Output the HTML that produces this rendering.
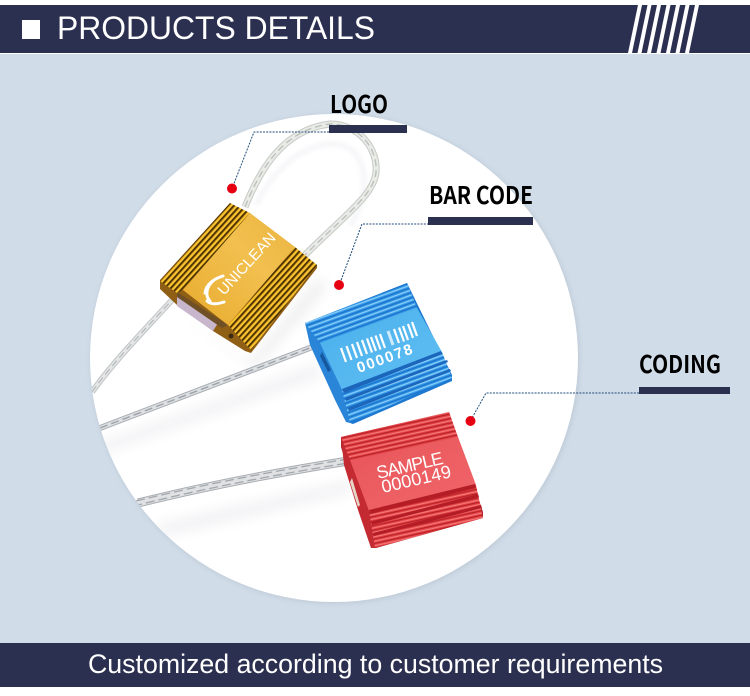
<!DOCTYPE html>
<html><head><meta charset="utf-8">
<style>
html,body{margin:0;padding:0;background:#fff;width:750px;height:696px;overflow:hidden}
svg{display:block}
.lab{font-family:"Noto Sans CJK SC","Liberation Sans",sans-serif;font-weight:700;font-size:24px;fill:#000}
.hd{font-family:"Liberation Sans",sans-serif;fill:#fff}
.mk{font-family:"Liberation Sans",sans-serif;fill:#fff}
</style></head><body>
<svg width="750" height="696" viewBox="0 0 750 696" xmlns="http://www.w3.org/2000/svg">
<defs>
<pattern id="pg" width="6" height="4.4" patternUnits="userSpaceOnUse" patternTransform="rotate(-47.7 230 203)">
<rect width="6" height="4.4" fill="#eaa81c"/><rect y="0" width="6" height="1.8" fill="#4a3004"/><rect y="2.8" width="6" height="1" fill="#fbd23e"/>
</pattern>
<pattern id="pb" width="6" height="4.8" patternUnits="userSpaceOnUse" patternTransform="rotate(-20 407 283)">
<rect width="6" height="4.8" fill="#3498e6"/><rect y="0" width="6" height="1.3" fill="#1a72cc"/><rect y="2.4" width="6" height="1.2" fill="#8cd0fa"/>
</pattern>
<pattern id="pr" width="6" height="4.4" patternUnits="userSpaceOnUse" patternTransform="rotate(-12.5 449 412)">
<rect width="6" height="4.4" fill="#e5474a"/><rect y="0" width="6" height="1.3" fill="#bb2228"/><rect y="2.4" width="6" height="1" fill="#f67b7c"/>
</pattern>
<linearGradient id="gf" x1="0" y1="1" x2="1" y2="0"><stop offset="0" stop-color="#e8ab2c"/><stop offset=".6" stop-color="#f2c050"/><stop offset="1" stop-color="#eab43e"/></linearGradient>
<linearGradient id="bf" x1="0" y1="0" x2="1" y2="1"><stop offset="0" stop-color="#4ab0ec"/><stop offset="1" stop-color="#60bff2"/></linearGradient>
<linearGradient id="rf" x1="0" y1="0" x2="1" y2="1"><stop offset="0" stop-color="#e8555a"/><stop offset="1" stop-color="#f0666a"/></linearGradient>
<filter id="bl" x="-30%" y="-30%" width="160%" height="160%"><feGaussianBlur stdDeviation="6"/></filter>
<filter id="bl2" x="-30%" y="-30%" width="160%" height="160%"><feGaussianBlur stdDeviation="2.5"/></filter>
<filter id="soft" x="-5%" y="-5%" width="110%" height="110%"><feGaussianBlur stdDeviation="0.35"/></filter>
<clipPath id="cc"><circle cx="334" cy="358" r="244"/></clipPath>
</defs>

<rect width="750" height="696" fill="#fff"/>
<rect y="54" width="750" height="589" fill="#d0dce8"/>
<circle cx="335" cy="359" r="245" fill="#aab5c2" filter="url(#bl2)" opacity=".4"/>
<circle cx="334" cy="358" r="244" fill="#fff"/>

<!-- soft shadows -->
<g clip-path="url(#cc)">
<path d="M100 442 L320 362 L320 378 L100 455Z" fill="#f3f3f5" filter="url(#bl)"/>
<path d="M160 522 L350 480 L350 494 L160 538Z" fill="#f3f3f5" filter="url(#bl)"/>
<path d="M175 310 L250 362 L320 275 L325 290 L255 370Z" fill="#f0efef" filter="url(#bl)"/>
<path d="M256 205 C280 155 325 132 352 150 C372 170 365 205 350 225" fill="none" stroke="#f5f5f8" stroke-width="5" filter="url(#bl2)"/>
</g>

<!-- cables -->
<g fill="none" clip-path="url(#cc)">
<path d="M92 392 C115 360 140 335 172 300" stroke="#c0c4c6" stroke-width="6"/>
<path d="M92 392 C115 360 140 335 172 300" stroke="#e4e6e6" stroke-width="4"/>
<path d="M92 392 C115 360 140 335 172 300" stroke="#b4b9bb" stroke-width="1.2" stroke-dasharray="7 4"/>

<path d="M245 207 C258 175 280 130 330 124 C360 124 378 150 376 172 C374 195 345 215 305 255" stroke="#c6cac5" stroke-width="7"/>
<path d="M245 207 C258 175 280 130 330 124 C360 124 378 150 376 172 C374 195 345 215 305 255" stroke="#e9ebe7" stroke-width="5"/>
<path d="M245 207 C258 175 280 130 330 124 C360 124 378 150 376 172 C374 195 345 215 305 255" stroke="#bdc1bc" stroke-width="1.4" stroke-dasharray="7 4"/>

<path d="M100 428 L315 346" stroke="#a6acb2" stroke-width="6"/>
<path d="M100 428 L315 346" stroke="#dde0e3" stroke-width="4"/>
<path d="M100 428 L315 346" stroke="#9ca2a8" stroke-width="1.4" stroke-dasharray="8 4"/>

<path d="M138 503 C210 485 280 472 348 461" stroke="#a8adb1" stroke-width="9"/>
<path d="M138 503 C210 485 280 472 348 461" stroke="#dfe1e3" stroke-width="7"/>
<path d="M136 501 C210 483 280 470 348 459" stroke="#a2a8ad" stroke-width="1.3" stroke-dasharray="9 4"/>
<path d="M138 505 C210 487 280 474 348 463" stroke="#a2a8ad" stroke-width="1.3" stroke-dasharray="9 4" stroke-dashoffset="5"/>
</g>

<!-- gold block -->
<g filter="url(#soft)">
<polygon points="160,280 160,289 177,305 213,331 245,351 251,353 317,268 317,265 230,203" fill="#8f5e16"/>
<polygon points="177,296 218,323 213,331 177,306" fill="#c8b6cc"/>
<polygon points="177,292 228,325 222,328 177,297" fill="#6e5028"/>
<polygon points="230,203 250,213 183,290 177,293 160,281" fill="url(#pg)"/>
<polygon points="295,247 317,265 251,350 228,325" fill="url(#pg)"/>
<polygon points="250,213 295,247 228,325 183,290" fill="url(#gf)"/>
<circle cx="231" cy="336" r="2.4" fill="#3a2a10"/>
</g>
<text class="mk" transform="translate(224 296) rotate(-47.7)" font-size="15" textLength="78" lengthAdjust="spacingAndGlyphs">UNICLEAN</text>
<g fill="none" stroke="#fff" stroke-linecap="round">
<path d="M223 276 C213 279 206 285 205 293" stroke-width="3"/>
<path d="M213 281 C206 287 205 296 210 301" stroke-width="3"/>
<path d="M207 301 C211 305 218 304 224 302" stroke-width="3"/>
</g>

<!-- blue block -->
<g filter="url(#soft)">
<polygon points="305,323 350,423 353,424 452,381 452,375 407,283" fill="#1e78d0"/>
<polygon points="305,323 320,343 342,390 350,423 346,422 335,400 310,345" fill="#2b85d8"/>
<polygon points="322,352 331,370 328,372 320,356" fill="#14589e"/>
<polygon points="407,283 417,308 320,343 305,323" fill="url(#pb)"/>
<polygon points="442,352 452,378 350,423 342,390" fill="url(#pb)"/>
<polygon points="417,308 442,352 342,390 320,343" fill="url(#bf)"/>
<polygon points="342,389 441,351 442,354 344,393" fill="#1a66bb"/>
<polygon points="345,398 447,360 448,362 346,401" fill="#1a66bb"/>
<polygon points="348,408 450,369 451,371 349,411" fill="#1a66bb"/>
</g>
<g stroke="#fff" fill="none">
<path d="M341 348 l5 14 M346.500 346 l5 14 M352 344 l5 14 M357 342 l5 14 M362 340 l5 14 M367 338.500 l5 14 M371 337 l5 14 M375.500 335.500 l5 14 M380 334 l5 14" stroke-width="2.2"/>
<path d="M388 331 l5 14" stroke-width="3" stroke="#cfeafb"/>
<path d="M394 329 l5 14 M399 327.500 l5 14 M403 326 l5 14 M408 324 l5 14 M412 322 l5 14" stroke-width="2.2"/>
</g>
<text class="mk" transform="translate(359 373) rotate(-20)" font-size="15" font-weight="700" textLength="58" lengthAdjust="spacing">000078</text>

<!-- red block -->
<g filter="url(#soft)">
<polygon points="341,437 341,447 372,548 376,548 483,518 483,512 449,412" fill="#a8242a"/>
<polygon points="341,437 350,460 369,511 375,548 371,548 358,510 344,465" fill="#c42b30"/>
<polygon points="352,478 360,505 358,507 350,482" fill="#e5d6c8"/>
<polygon points="449,412 458,437 350,460 341,437" fill="url(#pr)"/>
<polygon points="476,485 483,518 375,548 369,511" fill="url(#pr)"/>
<polygon points="458,437 476,485 369,511 350,460" fill="url(#rf)"/>
<polygon points="369,510 475,484 476,488 370,514" fill="#b41e25"/>
<polygon points="371,522 478,494 479,497 372,525" fill="#b41e25"/>
<polygon points="373,533 481,505 482,508 374,536" fill="#b41e25"/>
</g>
<text class="mk" transform="translate(378 479) rotate(-13)" font-size="18" textLength="68" lengthAdjust="spacing">SAMPLE</text>
<text class="mk" transform="translate(383 493) rotate(-13)" font-size="18" textLength="71" lengthAdjust="spacing">0000149</text>

<!-- connectors -->
<g fill="none" stroke="#1f4d7a" stroke-width="1" stroke-dasharray="2 1.2">
<path d="M329 132 H254 L233 186"/>
<path d="M429 224 H362 L340 283"/>
<path d="M639 393 H486 L472 418"/>
</g>
<circle cx="232" cy="188.500" r="5" fill="#e60012"/>
<circle cx="339" cy="285" r="5" fill="#e60012"/>
<circle cx="470.500" cy="421" r="5" fill="#e60012"/>

<!-- labels -->
<text class="lab" x="330" y="113" textLength="58" lengthAdjust="spacingAndGlyphs">LOGO</text>
<rect x="329" y="125" width="78" height="8" fill="#2c3050"/>
<text class="lab" x="429" y="204" textLength="104" lengthAdjust="spacingAndGlyphs">BAR CODE</text>
<rect x="428" y="217" width="105" height="8" fill="#2c3050"/>
<text class="lab" x="639" y="373" textLength="82" lengthAdjust="spacingAndGlyphs">CODING</text>
<rect x="639" y="387" width="91" height="7" fill="#2c3050"/>

<!-- header -->
<rect y="5" width="750" height="48" fill="#2c3050"/>
<rect x="22" y="20" width="18" height="19" fill="#fff"/>
<text class="hd" x="57" y="39" font-size="32" textLength="318" lengthAdjust="spacingAndGlyphs">PRODUCTS DETAILS</text>
<g fill="#fff">
<polygon points="638,5 642,5 632,53 628,53"/>
<polygon points="647.500,5 651.500,5 641.500,53 637.500,53"/>
<polygon points="657,5 661,5 651,53 647,53"/>
<polygon points="666.500,5 670.500,5 660.500,53 656.500,53"/>
<polygon points="676,5 680,5 670,53 666,53"/>
<polygon points="685.500,5 689.500,5 679.500,53 675.500,53"/>
<polygon points="695,5 699,5 689,53 685,53"/>
</g>

<!-- footer -->
<rect y="643" width="750" height="44" fill="#2c3050"/>
<text class="hd" x="88" y="673" font-size="27" textLength="575" lengthAdjust="spacingAndGlyphs">Customized according to customer requirements</text>
</svg>
</body></html>
